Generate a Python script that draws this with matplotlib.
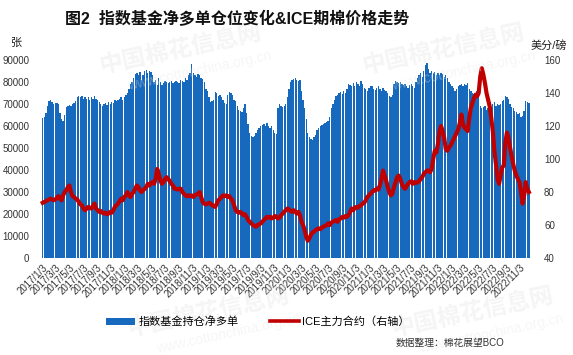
import pandas as pd
import matplotlib.pyplot as plt
from matplotlib.patches import Patch
from matplotlib.lines import Line2D

plt.rcParams['font.family'] = ['Liberation Sans', 'Noto Sans CJK SC']

# 周度数据, 2017/1/3 起
start_date = '2017-01-03'

# 指数基金持仓净多单 (千张)
net_long_k = [
    63.5, 64, 66, 69, 71.5, 72, 71, 70, 70.5, 70.5,
    70, 66, 63, 62.5, 65, 68.5, 69, 69.5, 69, 70,
    70.5, 71.5, 73, 73.5, 73, 73.5, 72.5, 73, 72.5, 73,
    72, 73, 72.5, 73.5, 72.5, 72, 71, 70, 69, 70,
    70.5, 69.5, 71, 70, 71, 70.5, 72, 71.5, 72, 72.5,
    73, 72, 73, 74, 75, 77, 79, 80, 82, 83.5,
    84, 83, 84.5, 81, 83, 85, 85.5, 84, 85, 84.5,
    83, 80, 81, 78.5, 82, 80, 78.5, 79.5, 80.5, 80,
    79.5, 80, 80.5, 79.5, 80, 80.5, 80, 79.5, 81, 80.5,
    80, 82, 81, 83, 84, 88, 84, 83, 82.5, 83.5,
    83, 82, 81.5, 80, 77, 76, 73, 71, 71.5, 72,
    75.5, 75, 73.5, 74, 73, 72, 70.5, 70, 74, 75.5,
    75, 74, 72, 71.5, 69, 67.5, 67, 66.5, 68, 70,
    66, 61, 57, 55.5, 55, 55.5, 57, 58, 59, 60,
    60.5, 61, 60, 61.5, 60, 59, 60, 58, 57, 56.5,
    68, 70, 69, 68.5, 69, 70, 73, 77, 80, 81,
    81.5, 82, 81, 80.5, 81, 76, 72, 68, 63, 57,
    55, 54, 53.5, 55, 56, 58, 59, 60, 60.5, 61,
    61.5, 62, 62.5, 64, 68, 70, 72, 73.5, 74, 75,
    75.5, 74.5, 76, 75, 77, 79, 78.5, 78, 79.5, 78,
    80, 79, 78, 80.5, 79, 77.5, 77, 76, 77.5, 78,
    78, 77, 76.5, 77.5, 78, 77, 76, 77.5, 76.5, 76,
    75, 73.5, 73, 74, 79, 80.5, 80, 79.5, 80, 79,
    78.5, 79, 78, 77.5, 78.5, 79, 78, 77.5, 80, 82,
    83, 84, 82.5, 85, 87.5, 88.5, 86, 84, 85, 84,
    84.5, 83, 84, 83, 84, 83.5, 82.5, 83, 82, 80,
    79, 78, 77.5, 76, 77, 78, 78.5, 79, 78, 79,
    78.5, 79.5, 77, 76, 75, 74.5, 75, 76, 75, 69,
    68, 68.5, 69, 67.5, 68, 67, 68.5, 70, 71, 69,
    70, 69.5, 70, 71.5, 72, 73.5, 73, 72.5, 70, 68.5,
    68, 67, 66.5, 65.5, 66, 64, 64.5, 67, 71.5, 71,
    70.5,
]

# ICE主力合约 (美分/磅)
ice_price = [
    73.5, 74, 74.5, 75, 75.5, 76, 75.5, 75, 75.5, 76.5,
    77.5, 76, 75, 78, 80, 81, 83, 84, 80, 77.5,
    77, 76, 75.5, 74, 72.5, 72, 70, 69, 70, 71,
    70.5, 70, 71.5, 73, 70, 69, 68, 68.5, 67.5, 67,
    67.5, 66.5, 67, 68, 67.5, 69, 71, 72, 73, 74.5,
    76, 75, 77, 78, 80, 78, 77, 79, 80, 82,
    84, 83, 81, 80, 81, 82, 83, 85, 84, 85.5,
    86, 85, 88, 94, 91, 87, 85, 86, 88, 89,
    88, 86.5, 85, 84, 82, 82, 81.5, 82, 82, 80,
    79, 78, 77.5, 78, 77.5, 78, 77, 78, 78.5, 79,
    80, 77, 74, 73, 72.5, 73, 73.5, 73, 72, 71.5,
    71, 73, 75, 76, 77, 78, 77.5, 78, 77, 77.5,
    76, 75, 72, 69, 68, 67.5, 68, 67, 66, 66.5,
    65, 63, 62, 61, 60, 59.5, 59, 60, 60.5, 61,
    62, 63, 64, 65, 64.5, 65, 64, 64.5, 65.5, 65,
    64, 64.5, 66, 67, 68, 69, 70, 69.5, 68.5, 68,
    69, 68, 67, 68, 66, 62, 60, 57, 53, 50.5,
    52, 54, 55.5, 56, 57, 57.5, 58, 57.5, 58.5, 59,
    59.5, 60, 61, 60, 61.5, 62, 62.5, 63, 62, 63.5,
    64, 65, 64.5, 65.5, 65, 66, 68, 70, 69, 70.5,
    71, 70.5, 71.5, 72, 73, 73.5, 75, 77, 78, 79,
    80, 81, 81, 82, 81.5, 84, 88, 93, 90, 87,
    83, 80, 78, 79, 83, 86, 89, 90, 88, 85,
    83, 82, 83.5, 85, 86, 86.5, 85, 86, 85.5, 86,
    86.5, 88, 89, 91, 92, 93, 93, 92, 94, 100,
    105, 104, 109, 117, 120, 117, 113, 106, 105, 107,
    108, 110, 112, 114, 116, 118, 122, 127, 121, 119,
    118, 117, 125, 131, 134, 137, 139, 138, 140, 150,
    155, 151, 146, 140, 136, 132, 125, 117, 105, 97,
    88, 85, 90, 95, 96, 110, 116, 113, 107, 102,
    97, 93, 90, 88, 86, 80, 73, 78, 86, 82,
    80,
]

dates = pd.date_range(start_date, periods=len(net_long_k), freq='7D')
tick_dates = [pd.Timestamp(year=y, month=m, day=3)
              for y in range(2017, 2023) for m in range(1, 12, 2)]
tick_labels = [f'{d.year}/{d.month}/{d.day}' for d in tick_dates]

fig = plt.figure(figsize=(5.73, 3.55), dpi=100)
ax = fig.add_axes([0.066, 0.273, 0.864, 0.558])
ax2 = ax.twinx()

ax.bar(dates, [v * 1000 for v in net_long_k], width=6.0, color='#1669bd', linewidth=0, zorder=2)
ax2.plot(dates, ice_price, color='#c00000', linewidth=3.0, zorder=3)

ax.set_xlim(pd.Timestamp('2016-12-12'), pd.Timestamp('2022-12-31'))
ax.set_ylim(0, 90000)
ax2.set_ylim(40, 160)
ax.set_yticks(range(0, 90001, 10000))
ax2.set_yticks(range(40, 161, 20))

ax.set_xticks(tick_dates)
ax.set_xticklabels(tick_labels, rotation=45, ha='right', rotation_mode='anchor',
                   fontsize=7, color='#333333')
ax.tick_params(axis='x', length=0, pad=3)
ax.tick_params(axis='y', length=0, labelsize=7, labelcolor='#333333', pad=6)
ax2.tick_params(axis='y', length=0, labelsize=7, labelcolor='#333333', pad=8)

for a in (ax, ax2):
    for s in a.spines.values():
        s.set_visible(False)

# 水印
for x, y in [(0.17, 0.86), (0.63, 0.86), (0.22, 0.12), (0.68, 0.12)]:
    fig.text(x, y, '中国棉花信息网', fontsize=17, color='#e2e2e2', alpha=0.35,
             rotation=12, ha='left', va='center', fontweight='bold', zorder=0)
    fig.text(x + 0.05, y - 0.06, 'www.cottonchina.org.cn', fontsize=10, color='#e6e6e6',
             alpha=0.35, rotation=12, ha='left', va='center', zorder=0)

fig.text(0.413, 0.948, '图2  指数基金净多单仓位变化&ICE期棉价格走势', ha='center', va='center',
         fontsize=11.5, fontweight='bold', color='#111111')
fig.text(0.027, 0.878, '张', ha='center', va='center', fontsize=8, color='#222222')
fig.text(0.957, 0.873, '美分/磅', ha='center', va='center', fontsize=8, color='#222222')

handles = [Patch(facecolor='#1669bd', edgecolor='none'),
           Line2D([0], [0], color='#c00000', linewidth=2.6)]
fig.legend(handles, ['指数基金持仓净多单', 'ICE主力合约（右轴）'], loc='center',
           bbox_to_anchor=(0.45, 0.093), ncol=2, frameon=False, fontsize=8,
           handlelength=2.6, handleheight=0.7, columnspacing=2.8, handletextpad=0.3)

fig.text(0.785, 0.035, '数据整理：棉花展望BCO', ha='center', va='center', fontsize=7,
         color='#333333')

fig.savefig('out.png', dpi=100)
